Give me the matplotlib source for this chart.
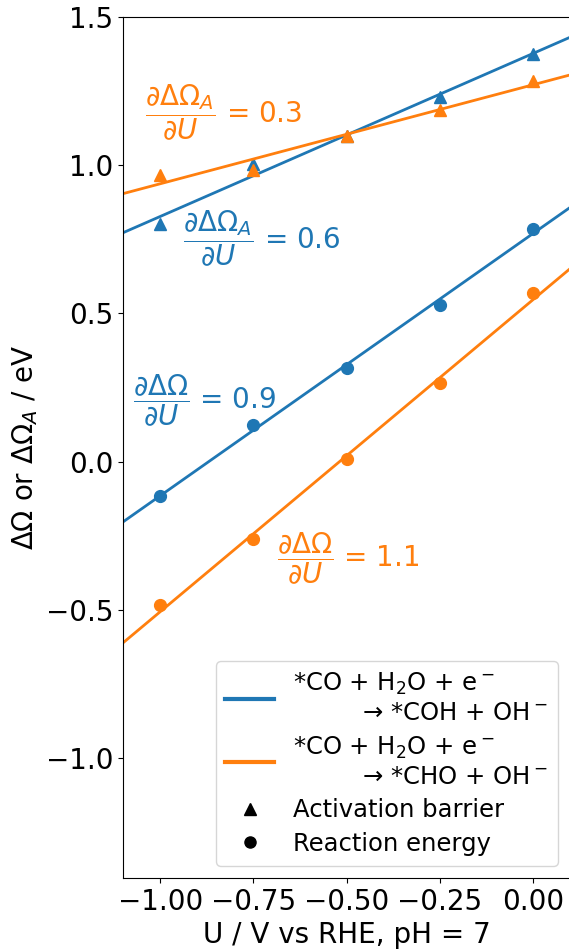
import numpy as np
import matplotlib
matplotlib.use("Agg")
import matplotlib.pyplot as plt
from matplotlib.lines import Line2D

# potentials (V vs RHE)
U = [-1.0, -0.75, -0.5, -0.25, 0.0]

# activation barriers
coh_barrier = [0.80, 1.005, 1.10, 1.23, 1.375]
cho_barrier = [0.967, 0.985, 1.10, 1.186, 1.284]

# reaction energies
coh_reaction = [-0.118, 0.122, 0.317, 0.528, 0.785]
cho_reaction = [-0.484, -0.262, 0.009, 0.266, 0.568]

legend_labels = [
    "*CO + H$_2$O + e$^-$\n         \u2192 *COH + OH$^-$",
    "*CO + H$_2$O + e$^-$\n         \u2192 *CHO + OH$^-$",
    "Activation barrier",
    "Reaction energy",
]

plt.rcParams['font.size'] = 20

fig = plt.figure(figsize=(5.69, 9.49), dpi=100)
ax = fig.add_axes([0.216, 0.075, 0.786, 0.907])

xfit = np.array([-1.1, 0.1])
x = np.array(U)

# fit every series and draw line + markers
series = [
    (coh_barrier, 'C0', '^'),
    (cho_barrier, 'C1', '^'),
    (coh_reaction, 'C0', 'o'),
    (cho_reaction, 'C1', 'o'),
]
slopes = []
for y, c, m in series:
    p = np.polyfit(x, y, 1)
    slopes.append(p[0])
    ax.plot(xfit, np.polyval(p, xfit), color=c, lw=2)
    ax.plot(x, y, m, color=c, ms=8.5, ls='none')

# slope labels
dA = r"$\dfrac{\partial\Delta\Omega_A}{\partial U}$"
d = r"$\dfrac{\partial\Delta\Omega}{\partial U}$"
ax.text(-1.041, 1.178, dA + " = %.1f" % slopes[1], color='C1', ha='left', va='center')
ax.text(-0.939, 0.751, dA + " = %.1f" % slopes[0], color='C0', ha='left', va='center')
ax.text(-1.073, 0.205, d + " = %.1f" % slopes[2], color='C0', ha='left', va='center')
ax.text(-0.687, -0.327, d + " = %.1f" % slopes[3], color='C1', ha='left', va='center')

ax.set_xlim(-1.1, 0.1)
ax.set_ylim(-1.405, 1.5)
ax.set_yticks([-1.0, -0.5, 0.0, 0.5, 1.0, 1.5])
ax.set_xticks([-1.0, -0.75, -0.5, -0.25, 0.0])
ax.set_xlabel("U / V vs RHE, pH = 7")
ax.set_ylabel(r"$\Delta\Omega$ or $\Delta\Omega_A$ / eV")

handles = [
    Line2D([], [], color='C0', lw=3),
    Line2D([], [], color='C1', lw=3),
    Line2D([], [], color='k', marker='^', ls='none', ms=8),
    Line2D([], [], color='k', marker='o', ls='none', ms=8),
]
leg = ax.legend(handles, legend_labels, loc='lower right', fontsize=17.5,
                labelspacing=0.4)
for t in leg.get_texts():
    t.set_linespacing(1.2)

fig.savefig("out.png", dpi=100)
